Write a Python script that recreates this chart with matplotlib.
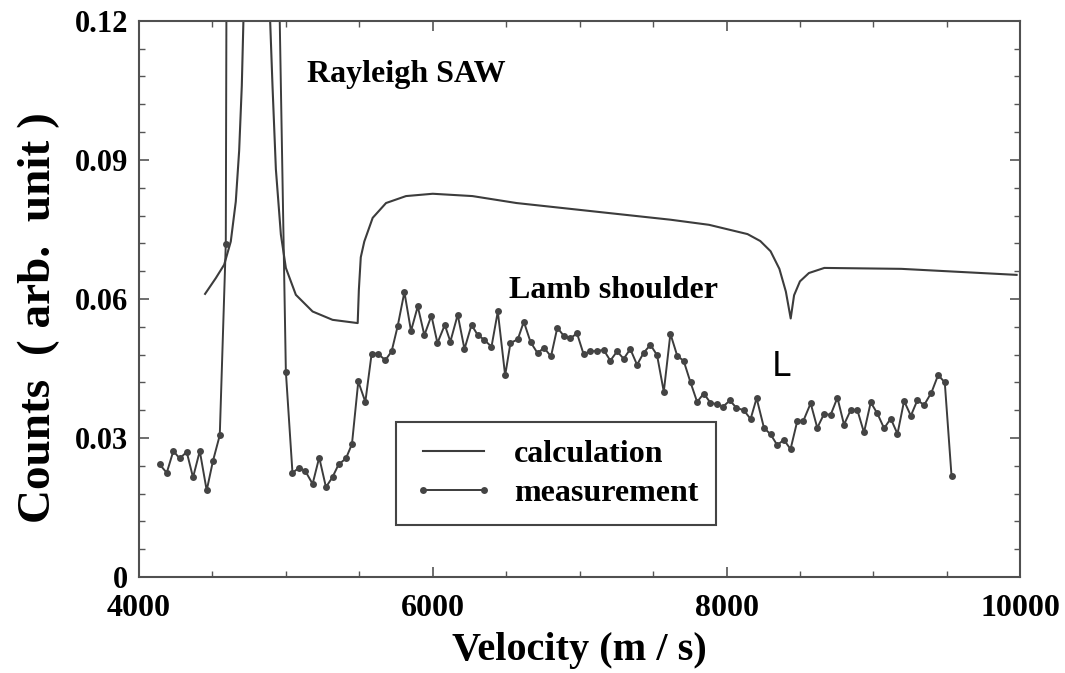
import numpy as np
import matplotlib.pyplot as plt
from matplotlib.ticker import MultipleLocator, FixedFormatter, FixedLocator

plt.rcParams.update({'font.family': 'serif', 'font.serif': ['Liberation Serif', 'DejaVu Serif'],
                     'font.weight': 'bold', 'axes.labelweight': 'bold'})

# measured counts (points above 0.12 are clipped by the axis)
meas_v = [4141, 4189, 4234, 4277, 4325, 4368, 4414, 4461, 4504, 4550, 4591,
          4636, 4682, 4727, 4773, 4818, 4864, 4909, 4955,
          5000, 5045, 5091, 5132, 5182, 5227, 5273, 5318, 5359, 5409, 5450,
          5493, 5541, 5584, 5627, 5677, 5720, 5761, 5807, 5852, 5898, 5943,
          5991, 6032, 6082, 6120, 6170, 6216, 6264, 6305, 6350, 6400, 6443,
          6493, 6529, 6579, 6620, 6666, 6714, 6757, 6805, 6848, 6891, 6937,
          6982, 7027, 7073, 7118, 7164, 7209, 7255, 7300, 7345, 7391, 7436,
          7482, 7527, 7573, 7618, 7664, 7709, 7755, 7800, 7845, 7891, 7936,
          7977, 8023, 8068, 8118, 8164, 8205, 8255, 8300, 8345, 8391, 8436,
          8482, 8523, 8573, 8618, 8664, 8709, 8755, 8800, 8845, 8891, 8936,
          8982, 9027, 9073, 9118, 9164, 9209, 9255, 9300, 9345, 9395, 9441,
          9486, 9532]
meas_c = [0.0243, 0.0225, 0.0272, 0.0256, 0.0270, 0.0215, 0.0272, 0.0187, 0.0251, 0.0306, 0.0719,
          0.6, 1.4, 1.8, 1.8, 1.5, 0.9, 0.4, 0.126,
          0.0443, 0.0225, 0.0236, 0.0229, 0.0201, 0.0258, 0.0194, 0.0216, 0.0243, 0.0256, 0.0287,
          0.0422, 0.0378, 0.0482, 0.0482, 0.0468, 0.0487, 0.0541, 0.0615, 0.0531, 0.0584, 0.0522,
          0.0564, 0.0505, 0.0544, 0.0508, 0.0566, 0.0492, 0.0544, 0.0523, 0.0512, 0.0497, 0.0573,
          0.0435, 0.0505, 0.0513, 0.0551, 0.0507, 0.0483, 0.0495, 0.0476, 0.0538, 0.0521, 0.0515,
          0.0526, 0.0481, 0.0487, 0.0488, 0.0490, 0.0467, 0.0487, 0.0471, 0.0492, 0.0458, 0.0484,
          0.0501, 0.0479, 0.0400, 0.0525, 0.0478, 0.0466, 0.0420, 0.0378, 0.0396, 0.0376, 0.0373,
          0.0368, 0.0381, 0.0365, 0.0360, 0.0341, 0.0386, 0.0322, 0.0308, 0.0285, 0.0296, 0.0276,
          0.0337, 0.0337, 0.0375, 0.0322, 0.0352, 0.0350, 0.0387, 0.0329, 0.0360, 0.0360, 0.0312,
          0.0377, 0.0353, 0.0321, 0.0342, 0.0309, 0.0380, 0.0348, 0.0382, 0.0371, 0.0398, 0.0436,
          0.0420, 0.0218]

# calculated curve
calc_v = [4450, 4523, 4580, 4625, 4659, 4682, 4700, 4711, 4800, 4893, 4909, 4932,
          4966, 5000, 5068, 5182, 5318, 5489, 5497, 5510, 5534, 5591, 5682, 5818,
          6000, 6270, 6570, 7094, 7619, 7881, 8143, 8230, 8300, 8360, 8404, 8437,
          8460, 8500, 8561, 8666, 9190, 9975]
calc_c = [0.0611, 0.0645, 0.0674, 0.0724, 0.0810, 0.0920, 0.1060, 0.1200, 0.6, 0.1200, 0.1060, 0.0880,
          0.0739, 0.0667, 0.0609, 0.0573, 0.0555, 0.0548, 0.0620, 0.0690, 0.0724, 0.0775, 0.0807, 0.0822,
          0.0827, 0.0822, 0.0807, 0.0789, 0.0771, 0.0760, 0.0740, 0.0725, 0.0703, 0.0665, 0.0616, 0.0558,
          0.0608, 0.0638, 0.0656, 0.0667, 0.0665, 0.0652]

x_ticks = [4000, 6000, 8000, 10000]
y_ticks = [0, 0.03, 0.06, 0.09, 0.12]
y_labels = ['0', '0.03', '0.06', '0.09', '0.12']

fig = plt.figure(figsize=(10.65, 6.73), dpi=100)
ax = fig.add_axes([0.1305, 0.1425, 0.8275, 0.8265])

ln = '#3c3c3c'
ax.plot(calc_v, calc_c, '-', color=ln, lw=1.5, label='calculation')
ax.plot(meas_v, meas_c, '-o', color=ln, lw=1.4, ms=5, markerfacecolor='#444444',
        markeredgewidth=0, label='measurement')

ax.set_xlim(4000, 10000)
ax.set_ylim(0, 0.12)
ax.xaxis.set_major_locator(FixedLocator(x_ticks))
ax.xaxis.set_minor_locator(MultipleLocator(500))
ax.yaxis.set_major_locator(FixedLocator(y_ticks))
ax.yaxis.set_major_formatter(FixedFormatter(y_labels))
ax.yaxis.set_minor_locator(MultipleLocator(0.006))
ax.tick_params(which='both', direction='in', top=True, right=True, color='#555555')
ax.tick_params(which='major', length=7, width=1.2)
ax.tick_params(which='minor', length=4, width=1.0)
ax.tick_params(axis='x', labelsize=23, pad=12)
ax.tick_params(axis='y', labelsize=22, pad=8)
for s in ax.spines.values():
    s.set_color('#505050')
    s.set_linewidth(1.5)

ax.set_xlabel('Velocity (m / s)', fontsize=29, labelpad=7)
ax.set_ylabel('Counts  ( arb.  unit )', fontsize=34)
ax.yaxis.set_label_coords(-0.09, 0.467)

ax.text(5823, 0.1085, 'Rayleigh SAW', fontsize=23, ha='center', va='center')
ax.text(7231, 0.0618, 'Lamb shoulder', fontsize=23, ha='center', va='center')
ax.text(8370, 0.0455, 'L', fontsize=24, ha='center', va='center', family='DejaVu Sans', weight='normal')

leg = ax.legend(loc='upper left', bbox_to_anchor=(0.2915, 0.279), fontsize=23, numpoints=2,
                handlelength=2.5, handletextpad=0.65, borderpad=0.55, labelspacing=0.3,
                borderaxespad=0, fancybox=False, edgecolor='#444444', framealpha=1)
leg.get_frame().set_linewidth(1.5)

plt.savefig('out.png', dpi=100)
